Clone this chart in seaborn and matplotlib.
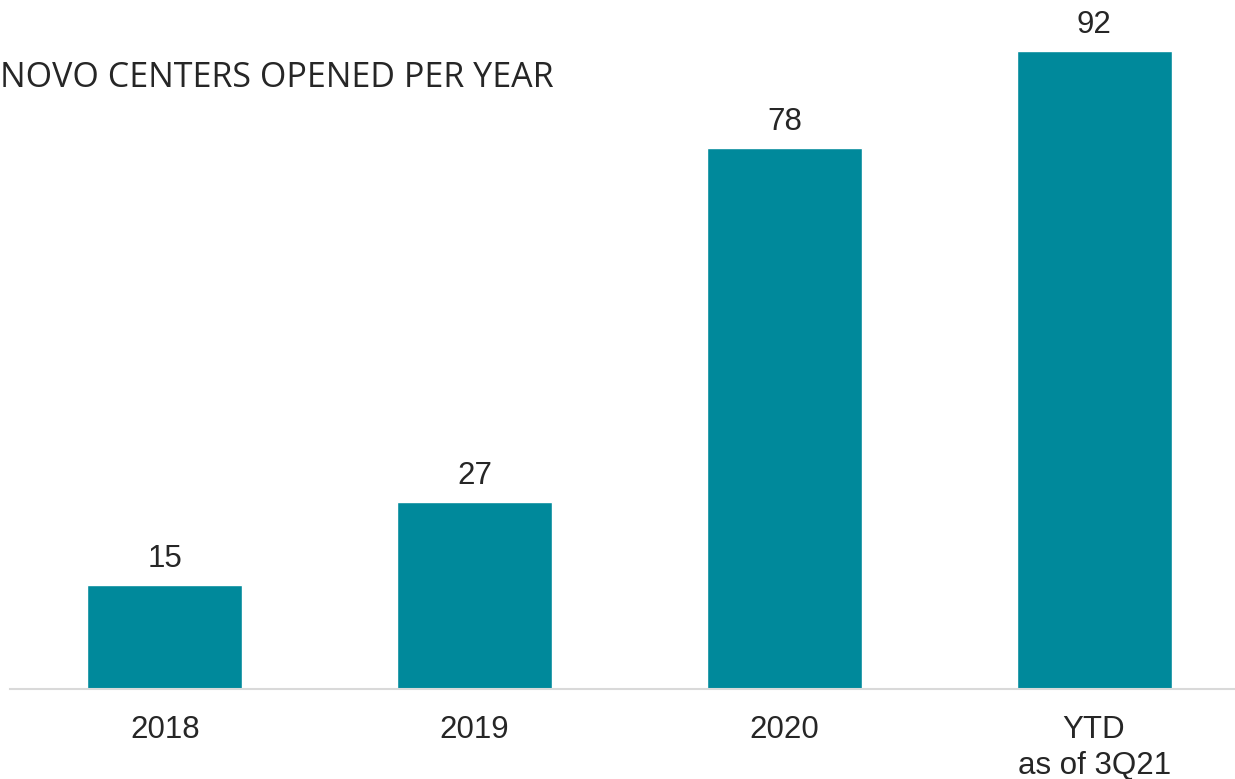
import matplotlib
matplotlib.use("Agg")
import matplotlib.pyplot as plt
import seaborn as sns
import pandas as pd

categories = ["2018", "2019", "2020", "YTD\nas of 3Q21"]
centers_opened = [15, 27, 78, 92]
title_text = "NOVO CENTERS OPENED PER YEAR"

sns.set_theme(style="white")
plt.rcParams["font.family"] = ["Liberation Sans", "DejaVu Sans"]

teal = "#00899B"
text_color = "#262626"

df = pd.DataFrame({"category": categories, "value": centers_opened})

fig = plt.figure(figsize=(12.35, 7.79), dpi=100)
ax = fig.add_axes([0.0, 1 - 689 / 779, 1.0, 689 / 779])

sns.barplot(data=df, x="category", y="value", color=teal, width=0.5,
            saturation=1, ax=ax)

ax.set_xlim(-0.5 - 10 / 309.7, 3.455)
ax.set_ylim(0, 99.35)

for patch, v in zip(ax.patches, centers_opened):
    ax.annotate(f"{v}", (patch.get_x() + patch.get_width() / 2, v),
                xytext=(0, 8), textcoords="offset points",
                ha="center", va="bottom", fontsize=22.5, color=text_color)

ax.set_xlabel("")
ax.set_ylabel("")
ax.set_yticks([])
ax.tick_params(axis="x", length=0, pad=19, labelsize=22.5,
               labelcolor=text_color)
for lbl in ax.get_xticklabels():
    lbl.set_linespacing(1.25)

for side in ["top", "right", "left"]:
    ax.spines[side].set_visible(False)
ax.spines["bottom"].set_color("#D9D9D9")
ax.spines["bottom"].set_linewidth(1.5)
ax.spines["bottom"].set_bounds(-0.5, 3.455)

fig.text(0.0, 1 - 78 / 779, title_text, fontsize=24.5, family="Open Sans",
         color=text_color, ha="left", va="center")

fig.savefig("out.png", dpi=100, facecolor="white")
